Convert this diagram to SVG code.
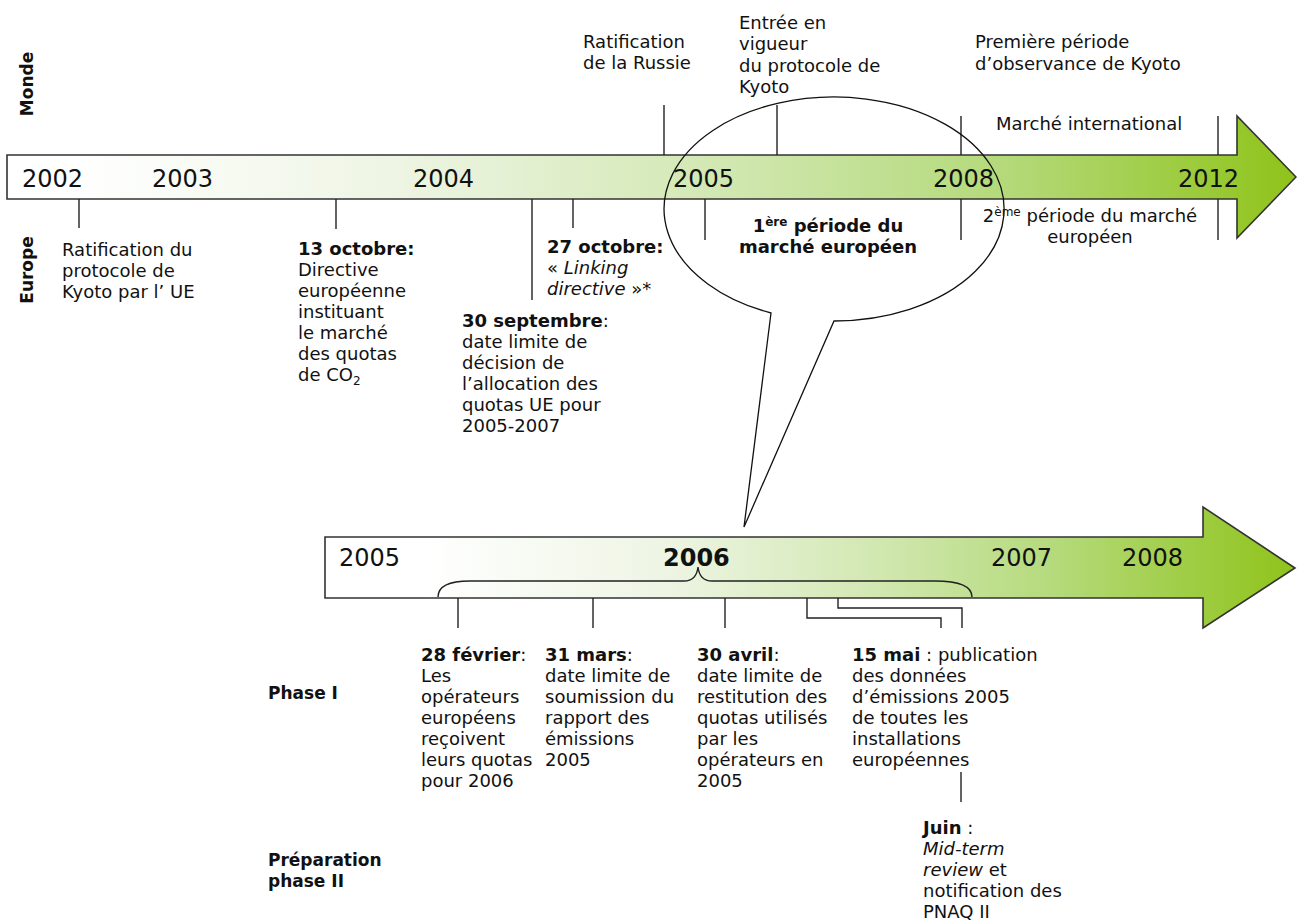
<svg xmlns="http://www.w3.org/2000/svg" width="1297" height="924" viewBox="0 0 1297 924">
<defs>
<linearGradient id="g1" x1="0" y1="0" x2="1" y2="0">
<stop offset="0.05" stop-color="#ffffff"/>
<stop offset="0.3" stop-color="#eef5e4"/>
<stop offset="0.55" stop-color="#d2e8b3"/>
<stop offset="0.78" stop-color="#b3d978"/>
<stop offset="1" stop-color="#8fc31a"/>
</linearGradient>
<linearGradient id="g2" x1="0" y1="0" x2="1" y2="0">
<stop offset="0.1" stop-color="#ffffff"/>
<stop offset="0.35" stop-color="#eef5e4"/>
<stop offset="0.55" stop-color="#d4e9b6"/>
<stop offset="0.75" stop-color="#b5da7c"/>
<stop offset="1" stop-color="#8fc31a"/>
</linearGradient>
<style>
text{font-family:"DejaVu Sans",Verdana,sans-serif;font-size:18px;fill:#111}
.yr{font-size:24px}
.b{font-weight:bold}
.i{font-style:italic}
.lab{font-weight:bold;font-size:17px}
.bar{stroke:#333;stroke-width:1.6}
.tk{stroke:#222;stroke-width:1.4;fill:none}
.sup{font-size:12px}
</style>
</defs>
<rect width="1297" height="924" fill="#fff"/>

<g id="axis-labels">
<text class="lab" transform="translate(33,84) rotate(-90)" text-anchor="middle">Monde</text>
<text class="lab" transform="translate(33,270) rotate(-90)" text-anchor="middle">Europe</text>
</g>

<g id="timeline-top">
<polygon class="bar" fill="url(#g1)" points="7,155 1237,155 1237,116 1296,177 1237,238 1237,199 7,199"/>
<text class="yr" x="22" y="187">2002</text>
<text class="yr" x="152" y="187">2003</text>
<text class="yr" x="413" y="187">2004</text>
<text class="yr" x="673" y="187">2005</text>
<text class="yr" x="933" y="187">2008</text>
<text class="yr" x="1178" y="187">2012</text>
</g>

<g id="timeline-bottom">
<polygon class="bar" fill="url(#g2)" points="325,537 1203,537 1203,507 1295,568 1203,628 1203,598 325,598"/>
<text class="yr" x="339" y="566">2005</text>
<text class="yr b" x="663" y="566">2006</text>
<text class="yr" x="991" y="566">2007</text>
<text class="yr" x="1122" y="566">2008</text>
</g>

<g id="connectors">
<line class="tk" x1="664" y1="105" x2="664" y2="155"/>
<line class="tk" x1="777" y1="105" x2="777" y2="155"/>
<line class="tk" x1="961" y1="116" x2="961" y2="155"/>
<line class="tk" x1="1218" y1="116" x2="1218" y2="155"/>
<line class="tk" x1="79" y1="199" x2="79" y2="228"/>
<line class="tk" x1="336" y1="199" x2="336" y2="229"/>
<line class="tk" x1="532" y1="199" x2="532" y2="300"/>
<line class="tk" x1="573" y1="199" x2="573" y2="228"/>
<line class="tk" x1="705" y1="199" x2="705" y2="240"/>
<line class="tk" x1="961" y1="199" x2="961" y2="240"/>
<line class="tk" x1="1218" y1="199" x2="1218" y2="240"/>
<path class="tk" d="M438,597 C438,585 450,581 470,581 L684,581 C692,581 697,576 698,567 C699,576 704,581 712,581 L935,581 C960,581 972,586 972,597"/>
<line class="tk" x1="458" y1="598" x2="458" y2="628"/>
<line class="tk" x1="593" y1="598" x2="593" y2="628"/>
<line class="tk" x1="725" y1="598" x2="725" y2="628"/>
<polyline class="tk" points="807,598 807,618 941,618 941,628"/>
<polyline class="tk" points="838,598 838,608 962,608 962,628"/>
<line class="tk" x1="961" y1="772" x2="961" y2="802"/>
</g>

<g id="callout">
<path d="M771,313 L744,527 L834,321 A170,112 0 1 0 771,313 Z" fill="none" stroke="#111" stroke-width="1.3"/>
<text class="b" x="828" y="232" text-anchor="middle">1<tspan class="sup" dy="-6">ère</tspan><tspan dy="6"> période du</tspan></text>
<text class="b" x="828" y="253" text-anchor="middle">marché européen</text>
</g>

<g id="monde-russie">
<text x="583" y="48">Ratification</text>
<text x="583" y="69">de la Russie</text>
</g>
<g id="monde-vigueur">
<text x="739" y="29">Entrée en</text>
<text x="739" y="50">vigueur</text>
<text x="739" y="72">du protocole de</text>
<text x="739" y="93">Kyoto</text>
</g>
<g id="monde-periode">
<text x="975" y="48">Première période</text>
<text x="975" y="70">d’observance de Kyoto</text>
<text x="996" y="130">Marché international</text>
</g>

<g id="eu-ratification">
<text x="62" y="256">Ratification du</text>
<text x="62" y="277">protocole de</text>
<text x="62" y="298">Kyoto par l’ UE</text>
</g>
<g id="eu-13oct">
<text class="b" x="298" y="255">13 octobre:</text>
<text x="298" y="276">Directive</text>
<text x="298" y="297">européenne</text>
<text x="298" y="318">instituant</text>
<text x="298" y="339">le marché</text>
<text x="298" y="360">des quotas</text>
<text x="298" y="381">de CO<tspan class="sup" dy="4">2</tspan></text>
</g>
<g id="eu-27oct">
<text class="b" x="547" y="253">27 octobre:</text>
<text x="547" y="274">« <tspan class="i">Linking</tspan></text>
<text x="547" y="295"><tspan class="i">directive</tspan> »*</text>
</g>
<g id="eu-30sept">
<text x="462" y="327"><tspan class="b">30 septembre</tspan>:</text>
<text x="462" y="348">date limite de</text>
<text x="462" y="369">décision de</text>
<text x="462" y="390">l’allocation des</text>
<text x="462" y="411">quotas UE pour</text>
<text x="462" y="432">2005-2007</text>
</g>
<g id="eu-periode2">
<text x="1090" y="222" text-anchor="middle">2<tspan class="sup" dy="-6">ème</tspan><tspan dy="6"> période du marché</tspan></text>
<text x="1090" y="243" text-anchor="middle">européen</text>
</g>

<g id="phase-labels">
<text class="lab" x="268" y="699">Phase I</text>
<text class="lab" x="268" y="866">Préparation</text>
<text class="lab" x="268" y="887">phase II</text>
</g>

<g id="ev-28fev">
<text x="421" y="661"><tspan class="b">28 février</tspan>:</text>
<text x="421" y="682">Les</text>
<text x="421" y="703">opérateurs</text>
<text x="421" y="724">européens</text>
<text x="421" y="745">reçoivent</text>
<text x="421" y="766">leurs quotas</text>
<text x="421" y="787">pour 2006</text>
</g>
<g id="ev-31mars">
<text x="545" y="661"><tspan class="b">31 mars</tspan>:</text>
<text x="545" y="682">date limite de</text>
<text x="545" y="703">soumission du</text>
<text x="545" y="724">rapport des</text>
<text x="545" y="745">émissions</text>
<text x="545" y="766">2005</text>
</g>
<g id="ev-30avril">
<text x="697" y="661"><tspan class="b">30 avril</tspan>:</text>
<text x="697" y="682">date limite de</text>
<text x="697" y="703">restitution des</text>
<text x="697" y="724">quotas utilisés</text>
<text x="697" y="745">par les</text>
<text x="697" y="766">opérateurs en</text>
<text x="697" y="787">2005</text>
</g>
<g id="ev-15mai">
<text x="852" y="661"><tspan class="b">15 mai</tspan> : publication</text>
<text x="852" y="682">des données</text>
<text x="852" y="703">d’émissions 2005</text>
<text x="852" y="724">de toutes les</text>
<text x="852" y="745">installations</text>
<text x="852" y="766">européennes</text>
</g>
<g id="ev-juin">
<text x="923" y="834"><tspan class="b">Juin</tspan> :</text>
<text x="923" y="855" class="i">Mid-term</text>
<text x="923" y="876"><tspan class="i">review</tspan> et</text>
<text x="923" y="897">notification des</text>
<text x="923" y="918">PNAQ II</text>
</g>
</svg>
